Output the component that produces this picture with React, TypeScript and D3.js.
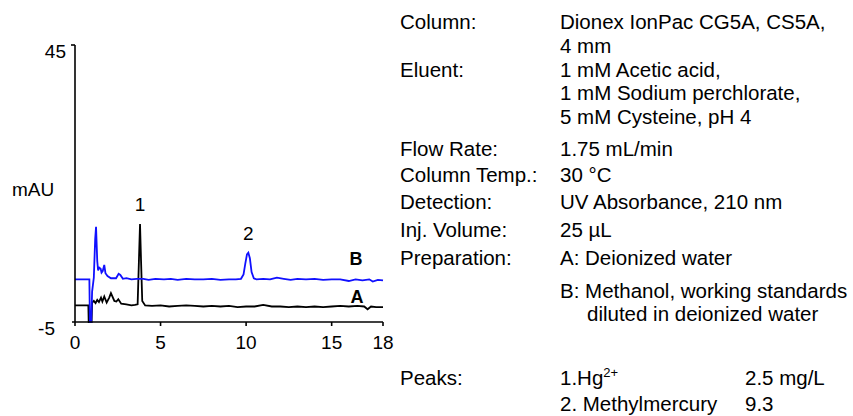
import React from 'react';
import * as d3 from 'd3';

// chromatogram traces: [retention time (min), absorbance (mAU)]
const traceA: [number, number][] = [
  [0, -2.0], [0.4, -2.0], [0.78, -2.0], [0.8, -5], [0.97, -5], [1.0, -1.5], [1.1, -1.2],
  [1.2, -1.6], [1.3, -1.0], [1.4, -1.4], [1.52, -0.6], [1.6, -1.3], [1.71, -0.4],
  [1.85, -1.5], [2.0, -0.6], [2.1, 0.2], [2.3, -1.2], [2.42, -1.3], [2.53, -0.9],
  [2.7, -1.7], [3.0, -1.8], [3.3, -2.0], [3.5, -1.9], [3.66, -1.8], [3.74, 6.5],
  [3.8, 12.7], [3.86, 6.0], [3.93, -1.2], [4.1, -2.0], [4.5, -2.1], [5.0, -2.0],
  [5.5, -2.2], [6.0, -2.1], [6.5, -2.0], [7.0, -2.1], [7.5, -2.2], [8.0, -2.1],
  [8.5, -2.2], [9.0, -2.1], [9.5, -2.3], [10.0, -2.2], [10.5, -2.2], [11.0, -1.9],
  [11.5, -2.2], [12.0, -2.2], [12.5, -2.3], [13.0, -2.2], [13.5, -2.3], [14.0, -2.2],
  [14.5, -2.3], [15.0, -2.2], [15.5, -2.1], [16.0, -2.2], [16.5, -2.1], [16.9, -2.2],
  [17.1, -2.7], [17.3, -2.2], [17.6, -2.3], [18.0, -2.3],
];

const traceB: [number, number][] = [
  [0, 2.7], [0.5, 2.7], [0.84, 2.7], [0.87, -5], [0.95, -5], [1.0, 0.5], [1.1, 3.0],
  [1.18, 10.0], [1.23, 12.2], [1.3, 6.0], [1.35, 4.3], [1.42, 4.8], [1.5, 4.6],
  [1.55, 3.9], [1.62, 4.2], [1.71, 5.3], [1.78, 3.8], [1.9, 3.3], [2.1, 2.9],
  [2.4, 2.9], [2.55, 3.7], [2.65, 3.5], [2.8, 2.8], [3.0, 2.9], [3.3, 2.7], [3.6, 2.8],
  [4.0, 2.8], [4.3, 2.6], [4.7, 2.8], [5.2, 2.7], [5.6, 2.8], [6.0, 2.6], [6.5, 2.8],
  [7.0, 2.7], [7.5, 2.7], [8.0, 2.8], [8.5, 2.6], [9.0, 2.7], [9.4, 2.7], [9.7, 2.8],
  [9.85, 3.6], [9.95, 5.5], [10.05, 7.2], [10.13, 7.5], [10.22, 6.5], [10.32, 4.0],
  [10.45, 2.9], [10.6, 2.7], [11.0, 2.8], [11.4, 2.7], [11.8, 3.0], [12.2, 2.8],
  [12.6, 2.6], [13.0, 2.8], [13.5, 2.7], [14.0, 2.8], [14.5, 2.6], [15.0, 2.7],
  [15.5, 2.7], [16.0, 2.4], [16.4, 2.7], [16.8, 2.5], [17.2, 2.7], [17.4, 2.3],
  [17.7, 2.6], [18.0, 2.5],
];

const xTicks = [0, 5, 10, 15, 18];
const yTicks = [45, -5];
const peakMarks = [
  { label: '1', t: 3.8, v: 12.7 },
  { label: '2', t: 10.13, v: 7.5 },
];

// conditions panel
const condLabels = ['Column:', '', 'Eluent:', '', '', 'Flow Rate:', 'Column Temp.:', 'Detection:', 'Inj. Volume:', 'Preparation:', '', ''];
const condValues = [
  'Dionex IonPac CG5A, CS5A,', '4 mm', '1 mM Acetic acid,', '1 mM Sodium perchlorate,',
  '5 mM Cysteine, pH 4', '1.75 mL/min', '30 °C', 'UV Absorbance, 210 nm', '25 µL',
  'A: Deionized water', 'B: Methanol, working standards', 'diluted in deionized water',
];
const peakNames = ['1.Hg', '2. Methylmercury'];
const peakConc = ['2.5 mg/L', '9.3'];

export default function App() {
  const width = 853, height = 416;
  const x = d3.scaleLinear().domain([0, 18]).range([75, 383]);
  const y = d3.scaleLinear().domain([-5, 45]).range([322, 45]);
  const line = d3.line<[number, number]>()
    .x(d => x(d[0]))
    .y(d => y(d[1]));

  const font = 'Liberation Sans, Arial, Helvetica, sans-serif';
  const rowY = [29, 53, 77, 100, 124, 156, 182, 209, 237, 265, 298, 321];
  const peakRowY = [385, 411];

  return (
    <svg width={width} height={height} style={{ position: 'absolute', left: 0, top: 0 }} fontFamily={font}>
      <rect width={width} height={height} fill="#fff" />
      {/* traces */}
      <path d={line(traceA) || ''} fill="none" stroke="#000" strokeWidth={1.8} />
      <path d={line(traceB) || ''} fill="none" stroke="#1010ff" strokeWidth={1.8} />

      {/* axes */}
      <line x1={x(0)} x2={x(0)} y1={y(45)} y2={y(-5)} stroke="#000" strokeWidth={1.6} />
      <line x1={x(0) - 3} x2={x(18)} y1={y(-5)} y2={y(-5)} stroke="#000" strokeWidth={1.6} />
      <line x1={x(0) - 4} x2={x(0)} y1={y(45)} y2={y(45)} stroke="#000" strokeWidth={1.6} />
      {xTicks.map(t => (
        <g key={t}>
          <line x1={x(t)} x2={x(t)} y1={y(-5)} y2={y(-5) + 4} stroke="#000" strokeWidth={1.6} />
          <text x={x(t)} y={349} textAnchor="middle" fontSize={19}>{t}</text>
        </g>
      ))}
      {yTicks.map(v => (
        <text key={v} x={v === 45 ? 66 : 55} y={y(v) + 13} textAnchor="end" fontSize={19}>{v}</text>
      ))}
      <text x={12} y={196} fontSize={19}>mAU</text>

      {peakMarks.map(p => (
        <text key={p.label} x={x(p.t)} y={y(p.v) - 13} textAnchor="middle" fontSize={19}>{p.label}</text>
      ))}
      <text x={356} y={265} textAnchor="middle" fontSize={18} fontWeight="bold">B</text>
      <text x={357} y={303} textAnchor="middle" fontSize={18} fontWeight="bold">A</text>

      {/* conditions */}
      {condLabels.map((l, i) => l && (
        <text key={'l' + i} x={400} y={rowY[i]} fontSize={20.5}>{l}</text>
      ))}
      {condValues.map((v, i) => (
        <text key={'v' + i} x={i === 11 ? 587 : 560} y={rowY[i]} fontSize={20.5}>{v}</text>
      ))}
      <text x={400} y={peakRowY[0]} fontSize={20.5}>Peaks:</text>
      {peakNames.map((n, i) => (
        <text key={'p' + i} x={560} y={peakRowY[i]} fontSize={20.5}>
          {n}
          {i === 0 && <tspan dy={-8} fontSize={13}>2+</tspan>}
        </text>
      ))}
      {peakConc.map((c, i) => (
        <text key={'c' + i} x={745} y={peakRowY[i]} fontSize={20.5}>{c}</text>
      ))}
    </svg>
  );
}
